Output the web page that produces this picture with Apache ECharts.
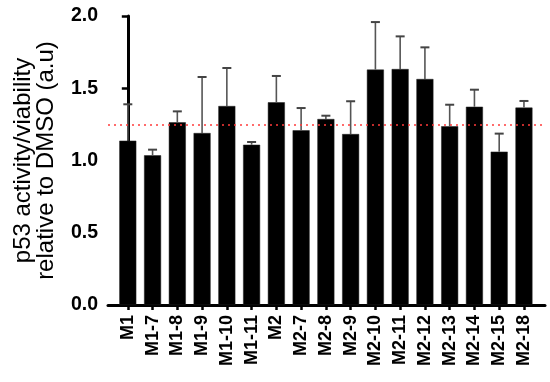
<!DOCTYPE html>
<html>
<head>
<meta charset="utf-8">
<script src="https://cdn.jsdelivr.net/npm/echarts@6/dist/echarts.min.js"></script>
<style>html,body{margin:0;padding:0;background:#fff}#c{width:550px;height:382px}</style>
</head>
<body>
<div id="c"></div>
<script>
var categories = ['M1','M1-7','M1-8','M1-9','M1-10','M1-11','M2','M2-7','M2-8','M2-9','M2-10','M2-11','M2-12','M2-13','M2-14','M2-15','M2-18'];
var means = [1.137,1.036,1.264,1.190,1.377,1.109,1.403,1.209,1.287,1.183,1.629,1.633,1.564,1.237,1.372,1.061,1.366];
var errors = [0.252,0.039,0.076,0.388,0.263,0.019,0.182,0.154,0.023,0.227,0.329,0.226,0.219,0.149,0.118,0.125,0.046];
var referenceLine = 1.25;
var yTicks = [0, 0.5, 1.0, 1.5, 2.0];

var FONT = 'Liberation Sans, Arial, sans-serif';
var chart = echarts.init(document.getElementById('c'), null, {renderer: 'canvas'});
var idx = categories.map(function (c, i) { return i; });
var barData = means.map(function (v, i) { return [i, v]; });
var errData = means.map(function (v, i) { return [i, v, v + errors[i]]; });

chart.setOption({
  animation: false,
  backgroundColor: '#fff',
  grid: {left: 108, right: 5, top: 16, bottom: 77, containLabel: false},
  xAxis: {
    type: 'value',
    min: -0.8,
    max: 16.85,
    splitLine: {show: false},
    axisLine: {show: true, lineStyle: {color: '#000', width: 3}},
    axisTick: {show: true, customValues: idx, length: 5, lineStyle: {color: '#000', width: 2.5}},
    axisLabel: {
      customValues: idx,
      rotate: 90,
      margin: 10,
      color: '#000',
      fontFamily: FONT,
      fontWeight: 'bold',
      fontSize: 18,
      formatter: function (v) { return categories[Math.round(v)]; }
    }
  },
  yAxis: {
    type: 'value',
    min: 0,
    max: 2,
    interval: 0.5,
    splitLine: {show: false},
    axisLine: {show: true, lineStyle: {color: '#000', width: 3}},
    axisTick: {show: true, length: 6, lineStyle: {color: '#000', width: 2.5}},
    axisLabel: {
      color: '#000', fontFamily: FONT, fontWeight: 'bold', fontSize: 19.5, margin: 10,
      customValues: yTicks,
      formatter: function (v) { return v.toFixed(1); }
    },
    name: 'p53 activity/viability\nrelative to DMSO (a.u)',
    nameLocation: 'middle',
    nameGap: 50,
    nameRotate: 90,
    nameTextStyle: {
      color: '#000', fontFamily: FONT, fontSize: 24, lineHeight: 23
    }
  },
  series: [
    {
      type: 'bar',
      data: barData,
      barWidth: 17,
      itemStyle: {color: '#000', borderColor: '#222', borderWidth: 0.5},
      markLine: {
        silent: true,
        symbol: 'none',
        label: {show: false},
        lineStyle: {color: '#ff3b3b', type: [2, 4], width: 1.5},
        data: [{yAxis: referenceLine}]
      },
      z: 2
    },
    {
      type: 'custom',
      data: errData,
      z: 3,
      renderItem: function (params, api) {
        var base = api.coord([api.value(0), api.value(1)]);
        var top = api.coord([api.value(0), api.value(2)]);
        var half = 4.5;
        var style = {stroke: '#555', lineWidth: 1.6};
        return {
          type: 'group',
          children: [
            {type: 'line', shape: {x1: base[0], y1: base[1], x2: top[0], y2: top[1]}, style: style},
            {type: 'line', shape: {x1: top[0] - half, y1: top[1], x2: top[0] + half, y2: top[1]}, style: {stroke: '#444', lineWidth: 2}}
          ]
        };
      }
    }
  ]
});
</script>
</body>
</html>
